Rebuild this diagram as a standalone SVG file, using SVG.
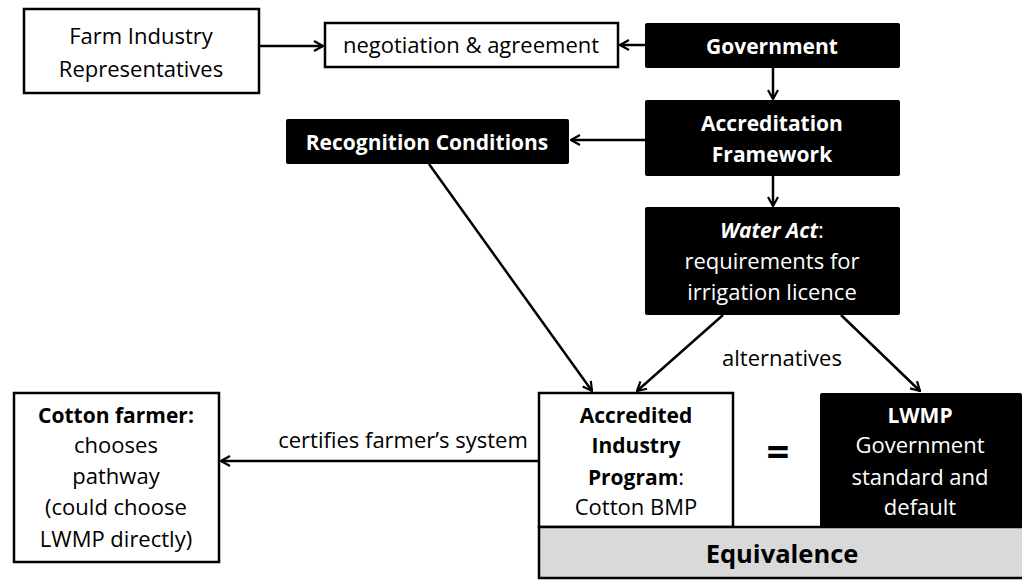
<svg xmlns="http://www.w3.org/2000/svg" width="1022" height="580" viewBox="0 0 1022 580">
  <style>
    text { font-family: "Open Sans", Lato, "Liberation Sans", sans-serif; font-size: 22px; text-anchor: middle; }
    .w { fill: #ffffff; }
    .k { fill: #000000; }
    .b { font-weight: bold; font-size: 21px; }
    .eq { font-size: 40px; font-weight: bold; }
    .big { font-size: 25.5px; font-weight: bold; }
    .box { fill: #ffffff; stroke: #000000; stroke-width: 2.5; }
    .dark { fill: #000000; }
    .edge { fill: none; stroke: #000000; stroke-width: 2.5; }
  </style>
  <defs>
    <marker id="arrow" viewBox="0 0 12 12" refX="11" refY="6" markerWidth="12" markerHeight="12" markerUnits="userSpaceOnUse" orient="auto">
      <polyline points="2,1 11,6 2,11" fill="none" stroke="#000000" stroke-width="2.2"/>
    </marker>
  </defs>
  <rect width="1022" height="580" fill="#ffffff"/>

  <!-- connectors -->
  <g id="connectors">
    <line class="edge" x1="259" y1="46" x2="323" y2="46" marker-end="url(#arrow)"/>
    <line class="edge" x1="645" y1="45" x2="620" y2="45" marker-end="url(#arrow)"/>
    <line class="edge" x1="773" y1="68" x2="773" y2="99" marker-end="url(#arrow)"/>
    <line class="edge" x1="645" y1="140" x2="571" y2="140" marker-end="url(#arrow)"/>
    <line class="edge" x1="773" y1="176" x2="773" y2="206" marker-end="url(#arrow)"/>
    <line class="edge" x1="429" y1="164" x2="592" y2="391" marker-end="url(#arrow)"/>
    <line class="edge" x1="723" y1="315" x2="637" y2="391" marker-end="url(#arrow)"/>
    <line class="edge" x1="841" y1="315" x2="920" y2="391" marker-end="url(#arrow)"/>
    <line class="edge" x1="539" y1="461" x2="221" y2="461" marker-end="url(#arrow)"/>
    <text class="k" x="782" y="366">alternatives</text>
    <text class="k" x="403" y="448">certifies farmer’s system</text>
  </g>

  <g id="farm-industry">
    <rect class="box" x="24" y="9" width="235" height="84"/>
    <text class="k" x="141" y="44">Farm Industry</text>
    <text class="k" x="141" y="77">Representatives</text>
  </g>

  <g id="negotiation">
    <rect class="box" x="325" y="23" width="293" height="44"/>
    <text class="k" x="471" y="53">negotiation &amp; agreement</text>
  </g>

  <g id="government">
    <rect class="dark" x="645" y="23" width="255" height="45" rx="2"/>
    <text class="w b" x="772" y="54">Government</text>
  </g>

  <g id="accreditation-framework">
    <rect class="dark" x="645" y="100" width="255" height="76" rx="2"/>
    <text class="w b" x="772" y="131">Accreditation</text>
    <text class="w b" x="772" y="162">Framework</text>
  </g>

  <g id="recognition-conditions">
    <rect class="dark" x="286" y="119" width="283" height="45" rx="2"/>
    <text class="w b" x="427" y="150">Recognition Conditions</text>
  </g>

  <g id="water-act">
    <rect class="dark" x="645" y="207" width="255" height="108" rx="2"/>
    <text class="w" x="772" y="238"><tspan class="b" font-style="italic">Water Act</tspan>:</text>
    <text class="w" x="772" y="269">requirements for</text>
    <text class="w" x="772" y="300">irrigation licence</text>
  </g>

  <g id="cotton-farmer">
    <rect class="box" x="14" y="393" width="205" height="169"/>
    <text class="k b" x="116" y="423">Cotton farmer:</text>
    <text class="k" x="116" y="453">chooses</text>
    <text class="k" x="116" y="484">pathway</text>
    <text class="k" x="116" y="515">(could choose</text>
    <text class="k" x="116" y="547">LWMP directly)</text>
  </g>

  <g id="accredited-program">
    <rect class="box" x="539" y="393" width="194" height="134"/>
    <text class="k b" x="636" y="423">Accredited</text>
    <text class="k b" x="636" y="453">Industry</text>
    <text class="k" x="636" y="485"><tspan class="b">Program</tspan>:</text>
    <text class="k" x="636" y="515">Cotton BMP</text>
  </g>

  <g id="equals">
    <text class="k eq" x="778" y="466">=</text>
  </g>

  <g id="lwmp">
    <rect class="dark" x="820" y="393" width="202" height="134" rx="2"/>
    <text class="w b" x="920" y="423">LWMP</text>
    <text class="w" x="920" y="453">Government</text>
    <text class="w" x="920" y="485">standard and</text>
    <text class="w" x="920" y="515">default</text>
  </g>

  <g id="equivalence">
    <rect x="539" y="527" width="485" height="51" fill="#d9d9d9" stroke="#000000" stroke-width="2.5"/>
    <text class="k big" x="782" y="563">Equivalence</text>
  </g>
</svg>
